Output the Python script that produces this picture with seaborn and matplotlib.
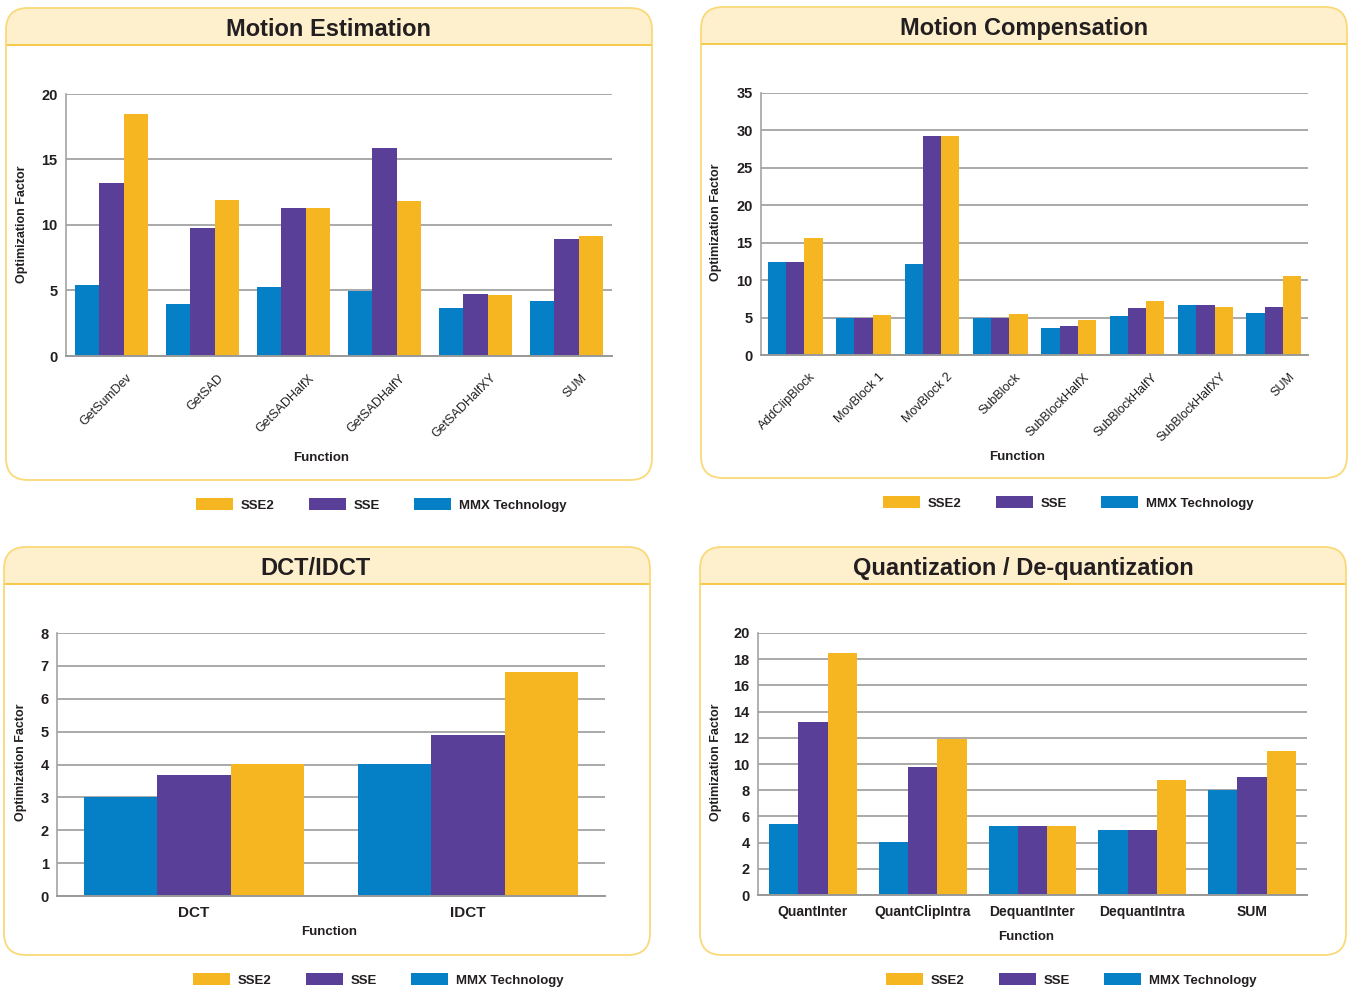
# -*- coding: utf-8 -*-
"""
SIMD optimization factors - four panel bar charts
"""

import numpy as np
import pandas as pd
import seaborn as sns
import matplotlib.pyplot as plt
from matplotlib.patches import FancyBboxPatch, Rectangle, Patch
from matplotlib.lines import Line2D
from matplotlib.transforms import ScaledTranslation

W, H = 1348, 988

techs = ['MMX Technology', 'SSE', 'SSE2']
legendOrder = ['SSE2', 'SSE', 'MMX Technology']
colours = {'MMX Technology': '#0580C6', 'SSE': '#5A3F99', 'SSE2': '#F5B622'}

# Motion Estimation
meFunctions = ['GetSumDev', 'GetSAD', 'GetSADHalfX', 'GetSADHalfY', 'GetSADHalfXY', 'SUM']
meMMX = [5.4, 4.0, 5.25, 4.95, 3.65, 4.2]
meSSE = [13.2, 9.8, 11.3, 15.9, 4.7, 8.95]
meSSE2 = [18.5, 11.9, 11.3, 11.85, 4.65, 9.15]

# Motion Compensation
mcFunctions = ['AddClipBlock', 'MovBlock 1', 'MovBlock 2', 'SubBlock', 'SubBlockHalfX',
               'SubBlockHalfY', 'SubBlockHalfXY', 'SUM']
mcMMX = [12.45, 4.95, 12.2, 4.95, 3.6, 5.2, 6.7, 5.6]
mcSSE = [12.45, 4.95, 29.3, 4.95, 3.9, 6.3, 6.7, 6.4]
mcSSE2 = [15.65, 5.35, 29.3, 5.5, 4.7, 7.2, 6.4, 10.6]

# DCT/IDCT
dctFunctions = ['DCT', 'IDCT']
dctMMX = [3.0, 4.02]
dctSSE = [3.69, 4.91]
dctSSE2 = [4.02, 6.8]

# Quantization / De-quantization
qFunctions = ['QuantInter', 'QuantClipIntra', 'DequantInter', 'DequantIntra', 'SUM']
qMMX = [5.42, 4.05, 5.27, 4.96, 8.02]
qSSE = [13.2, 9.77, 5.27, 4.96, 9.0]
qSSE2 = [18.47, 11.9, 5.27, 8.78, 10.99]

GRID = '#A3A3A3'


def toFrame(functions, mmx, sse, sse2):
    df = pd.DataFrame({'Function': functions, 'MMX Technology': mmx, 'SSE': sse, 'SSE2': sse2})
    return df.melt(id_vars='Function', var_name='Tech', value_name='Factor')


def drawPanel(fig, x0, y0, x1, y1, yHeader, title, titleX, titleY):
    # rounded frame with a cream header band, all in pixel units (via inches)
    tr = fig.dpi_scale_trans
    box = FancyBboxPatch((x0 / 100, (H - y1) / 100), (x1 - x0) / 100, (y1 - y0) / 100,
                         boxstyle='round,pad=0,rounding_size=0.22', transform=tr,
                         facecolor='white', edgecolor='none', zorder=-3)
    fig.add_artist(box)
    header = Rectangle((x0 / 100, (H - yHeader) / 100), (x1 - x0) / 100, (yHeader - y0) / 100,
                       transform=tr, facecolor='#FFF0CD', edgecolor='none', zorder=-2)
    fig.add_artist(header)
    header.set_clip_path(box)
    fig.add_artist(Line2D([x0 / 100, x1 / 100], [(H - yHeader) / 100] * 2, transform=tr,
                          color='#F6C94A', lw=1.4, zorder=-1))
    border = FancyBboxPatch((x0 / 100, (H - y1) / 100), (x1 - x0) / 100, (y1 - y0) / 100,
                            boxstyle='round,pad=0,rounding_size=0.22', transform=tr,
                            facecolor='none', edgecolor='#F9D978', lw=1.3, zorder=-0.5)
    fig.add_artist(border)
    fig.text(titleX / W, 1 - titleY / H, title, ha='center', va='center_baseline',
             fontsize=17, fontweight='bold', color='#231F20')


def plotPanel(fig, df, axBox, ymax, yticks, rotated, labelPos, funcPos, labelSize):
    x0, y0, x1, y1 = axBox
    ax = fig.add_axes([x0 / W, 1 - y1 / H, (x1 - x0) / W, (y1 - y0) / H])
    ax.patch.set_alpha(0)
    sns.barplot(data=df, x='Function', y='Factor', hue='Tech', hue_order=techs,
                palette=colours, saturation=1, errorbar=None, width=0.8,
                linewidth=0, legend=False, ax=ax)
    n = df['Function'].nunique()
    ax.set_xlim(-0.5, n - 0.5)
    ax.set_ylim(0, ymax)
    ax.set_yticks(yticks)
    ax.yaxis.grid(True, color=GRID, lw=1.3)
    ax.xaxis.grid(False)
    ax.set_axisbelow(True)
    for s in ['top', 'right']:
        ax.spines[s].set_visible(False)
    ax.spines['left'].set_color(GRID)
    ax.spines['bottom'].set_color('#999999')
    ax.spines['left'].set_linewidth(1.2)
    ax.spines['bottom'].set_linewidth(1.4)
    ax.set_xlabel('')
    ax.set_ylabel('')
    ax.tick_params(axis='y', length=0, labelsize=10.5, pad=6, labelcolor='#231F20')
    plt.setp(ax.get_yticklabels(), fontweight='bold')
    ax.set_xticks(np.arange(-0.5, n, 1), minor=True)
    ax.tick_params(axis='x', which='minor', length=6, width=1.2, color='#999999')
    if rotated:
        ax.tick_params(axis='x', which='major', length=0, labelsize=labelSize, pad=11.5,
                       labelcolor='#231F20')
        offset = ScaledTranslation(0.23, 0, fig.dpi_scale_trans)
        for lbl in ax.get_xticklabels():
            lbl.set_rotation(45)
            lbl.set_ha('right')
            lbl.set_va('top')
            lbl.set_transform(lbl.get_transform() + offset)
    else:
        ax.tick_params(axis='x', which='major', length=0, labelsize=labelSize, pad=7,
                       labelcolor='#231F20')
        plt.setp(ax.get_xticklabels(), fontweight='bold')
    fig.text(labelPos[0] / W, 1 - labelPos[1] / H, 'Optimization Factor', rotation=90,
             ha='center', va='center', fontsize=9, fontweight='bold', color='#231F20')
    fig.text(funcPos[0] / W, 1 - funcPos[1] / H, 'Function', ha='center', va='center',
             fontsize=9.5, fontweight='bold', color='#231F20')
    return ax


def addLegend(fig, x, y):
    handles = [Patch(facecolor=colours[t], edgecolor='none', label=t) for t in legendOrder]
    fig.legend(handles=handles, loc='center left', bbox_to_anchor=(x / W, 1 - y / H), ncol=3,
               frameon=False, prop={'weight': 'bold', 'size': 9.5}, handlelength=2.8,
               handleheight=0.95, handletextpad=0.6, columnspacing=2.6, borderpad=0,
               borderaxespad=0, labelcolor='#231F20')


sns.set_style('white')
plt.rcParams['font.family'] = ['Liberation Sans', 'DejaVu Sans']

fig = plt.figure(figsize=(W / 100, H / 100), dpi=100, facecolor='white')

drawPanel(fig, 6, 8, 652, 480, 45, 'Motion Estimation', 329, 27)
plotPanel(fig, toFrame(meFunctions, meMMX, meSSE, meSSE2), (66, 94, 612, 356),
          20, [0, 5, 10, 15, 20], True, (22, 224), (321, 458), 9)
addLegend(fig, 196, 505)

drawPanel(fig, 701, 7, 1347, 478, 44, 'Motion Compensation', 1024, 26)
plotPanel(fig, toFrame(mcFunctions, mcMMX, mcSSE, mcSSE2), (761, 93, 1308, 355),
          35, [0, 5, 10, 15, 20, 25, 30, 35], True, (716, 222), (1017, 457), 9)
addLegend(fig, 883, 503)

drawPanel(fig, 4, 547, 650, 955, 584, 'DCT/IDCT', 315, 566)
plotPanel(fig, toFrame(dctFunctions, dctMMX, dctSSE, dctSSE2), (57, 633, 605, 896),
          8, list(range(0, 9)), False, (21, 762), (329, 932), 11)
addLegend(fig, 193, 980)

drawPanel(fig, 700, 547, 1346, 955, 584, 'Quantization / De-quantization', 1023, 566)
plotPanel(fig, toFrame(qFunctions, qMMX, qSSE, qSSE2), (758, 633, 1307, 895),
          20, list(range(0, 21, 2)), False, (716, 762), (1026, 937), 10)
addLegend(fig, 886, 980)

fig.savefig('out.png', dpi=100, facecolor='white')
plt.close()
